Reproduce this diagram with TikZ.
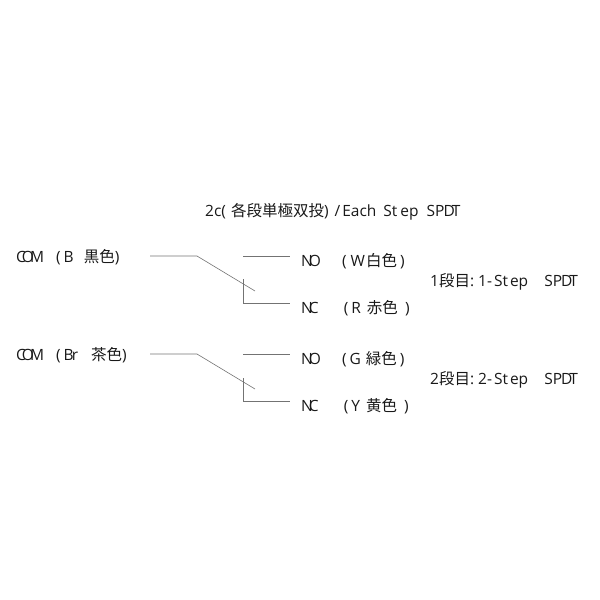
\documentclass[tikz,border=0pt]{standalone}
\usepackage{fontspec}
\setmainfont{Open Sans}
\newfontfamily\cjk{Noto Sans CJK JP}
\newcommand{\spdt}{SP\kern-1pt D\kern-3pt T}
\tikzset{
    label/.style={anchor=west,inner sep=0pt,font=\fontsize{15.5}{18}\selectfont,text=black!90},
    wire/.style={draw=black!55,line width=0.6pt}
}
\begin{document}
\begin{tikzpicture}[x=1pt,y=-1pt]
    \useasboundingbox (0,0) rectangle (600,600);
    %% title
    \node[label] (title) at (205,211.5) {2c(\kern5pt{\cjk 各段単極双投})\kern6pt/\kern2pt Each\ \kern3pt St\kern3pt ep\ \kern4pt\spdt};
    %% first step
    \node[label] (com1) at (16,257) {C\kern-4pt O\kern-4pt M\ \ \ (\kern3pt B\ \ \kern2pt{\cjk 黒色})};
    \node[label] (no1) at (301,261) {N\kern-4pt O\ \ \ \ \kern5pt(\kern4pt W\kern1pt{\cjk 白色}\kern3pt)};
    \node[label] (nc1) at (301,308) {N\kern-4pt C\ \ \ \ \ \kern5pt(\kern3pt R\ \kern2pt{\cjk 赤色}\ \kern3pt)};
    \node[label] (step1) at (430,281.5) {1{\cjk 段目}:\ 1-\kern2pt St\kern2pt ep\ \ \ \ \spdt};
    \coordinate (a1) at (150,256);
    \coordinate (b1) at (197,256);
    \coordinate (c1) at (255,291);
    \coordinate (d1) at (243,256);
    \coordinate (e1) at (290,256);
    \coordinate (f1) at (243,279);
    \coordinate (g1) at (243,303);
    \coordinate (h1) at (290,303);
    \draw[wire] (a1) -- (b1) -- (c1);
    \draw[wire] (d1) -- (e1);
    \draw[wire] (f1) -- (g1) -- (h1);
    %% second step
    \node[label] (com2) at (16,355) {C\kern-4pt O\kern-4pt M\ \ \ (\kern3pt B\kern-2pt r\ \ \kern5pt{\cjk 茶色})};
    \node[label] (no2) at (301,359) {N\kern-4pt O\ \ \ \ \kern5pt(\kern3pt G\ \kern1pt{\cjk 緑色}\kern3pt)};
    \node[label] (nc2) at (301,406) {N\kern-4pt C\ \ \ \ \ \kern5pt(\kern3pt Y\ \kern2pt{\cjk 黄色}\ \kern3pt)};
    \node[label] (step2) at (430,379.5) {2{\cjk 段目}:\ 2-\kern2pt St\kern2pt ep\ \ \ \ \spdt};
    \coordinate (a2) at (150,354);
    \coordinate (b2) at (197,354);
    \coordinate (c2) at (255,389);
    \coordinate (d2) at (243,354);
    \coordinate (e2) at (290,354);
    \coordinate (f2) at (243,378);
    \coordinate (g2) at (243,401);
    \coordinate (h2) at (290,401);
    \draw[wire] (a2) -- (b2) -- (c2);
    \draw[wire] (d2) -- (e2);
    \draw[wire] (f2) -- (g2) -- (h2);
\end{tikzpicture}
\end{document}
